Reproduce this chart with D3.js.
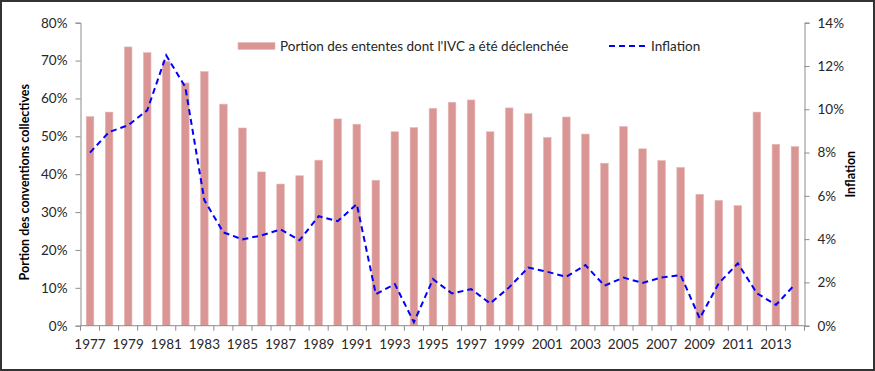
<!DOCTYPE html>
<html>
<head>
<meta charset="utf-8">
<script src="https://cdn.jsdelivr.net/npm/d3@7"></script>
<style>
  body { margin: 0; background: #fff; }
  svg { display: block; font-family: Lato, "Open Sans", sans-serif; }
</style>
</head>
<body>
<svg id="chart" width="875" height="371"></svg>
<script>
// Data
const years = d3.range(1977, 2015).map(String);
const portion = [55.2, 56.4, 73.6, 72.1, 69.8, 64.1, 67.1, 58.5, 52.2, 40.6,
                 37.4, 39.6, 43.7, 54.6, 53.2, 38.4, 51.2, 52.3, 57.4, 59.0,
                 59.6, 51.2, 57.5, 56.0, 49.7, 55.1, 50.6, 42.9, 52.6, 46.7,
                 43.6, 41.8, 34.7, 33.1, 31.7, 56.4, 47.9, 47.3];
const inflation = [8.0, 8.95, 9.26, 9.95, 12.49, 11.03, 5.8, 4.31, 3.99, 4.17,
                   4.45, 3.95, 5.06, 4.83, 5.62, 1.46, 1.92, 0.16, 2.15, 1.49,
                   1.69, 1.03, 1.77, 2.69, 2.49, 2.26, 2.80, 1.85, 2.22, 1.98,
                   2.23, 2.34, 0.34, 1.96, 2.88, 1.50, 0.96, 1.91];
const leftTicks = [0, 10, 20, 30, 40, 50, 60, 70, 80];
const rightTicks = [0, 2, 4, 6, 8, 10, 12, 14];
const labels = {
  bars: "Portion des ententes dont l'IVC a été déclenchée",
  line: "Inflation",
  yLeft: "Portion des conventions collectives",
  yRight: "Inflation"
};

const svg = d3.select("#chart");
const W = 875, H = 371;
const plot = { left: 80.5, right: 804.5, top: 22.7, bottom: 325.7 };

// frame
svg.append("rect")
  .attr("x", 1).attr("y", 1).attr("width", W - 2).attr("height", H - 2)
  .attr("fill", "#fff").attr("stroke", "#333").attr("stroke-width", 2);

const x = d3.scaleBand().domain(years).range([plot.left, plot.right]).paddingInner(0).paddingOuter(0);
const yL = d3.scaleLinear().domain([0, 80]).range([plot.bottom, plot.top]);
const yR = d3.scaleLinear().domain([0, 14]).range([plot.bottom, plot.top]);

const barW = x.bandwidth() / 2.5;

// bars
svg.append("g").selectAll("rect")
  .data(years)
  .join("rect")
  .attr("x", d => x(d) + (x.bandwidth() - barW) / 2)
  .attr("width", barW)
  .attr("y", (d, i) => yL(portion[i]))
  .attr("height", (d, i) => yL(0) - yL(portion[i]))
  .attr("fill", "#d99694")
  .attr("stroke", "#e6b9b8")
  .attr("stroke-width", 0.6);

// axes
const axisColor = "#8c8c8c";
const textColor = "#262626";

const gL = svg.append("g")
  .attr("transform", `translate(${plot.left},0)`)
  .call(d3.axisLeft(yL).tickValues(leftTicks).tickFormat(d => d + "%").tickSize(5).tickPadding(8));
const gR = svg.append("g")
  .attr("transform", `translate(${plot.right},0)`)
  .call(d3.axisRight(yR).tickValues(rightTicks).tickFormat(d => d + "%").tickSize(5).tickPadding(8));

// x axis: ticks at category boundaries, labels every other year
const gX = svg.append("g").attr("transform", `translate(0,${plot.bottom})`);
gX.append("line")
  .attr("x1", plot.left).attr("x2", plot.right)
  .attr("stroke", axisColor);
gX.selectAll("line.tick")
  .data(years.concat(["end"]))
  .join("line")
  .attr("class", "tick")
  .attr("x1", (d, i) => plot.left + i * x.bandwidth())
  .attr("x2", (d, i) => plot.left + i * x.bandwidth())
  .attr("y1", 0).attr("y2", 5)
  .attr("stroke", axisColor);
gX.selectAll("text")
  .data(years.filter((d, i) => i % 2 === 0))
  .join("text")
  .attr("x", d => x(d) + x.bandwidth() / 2)
  .attr("y", 23)
  .attr("text-anchor", "middle")
  .attr("fill", textColor)
  .attr("font-size", 13.5)
  .text(d => d);

[gL, gR].forEach(g => {
  g.select(".domain").attr("stroke", axisColor);
  g.selectAll(".tick line").attr("stroke", axisColor);
  g.selectAll(".tick text").attr("fill", textColor).attr("font-size", 13.5)
    .attr("font-family", 'Lato, "Open Sans", sans-serif');
});

// inflation line
const line = d3.line()
  .x((d, i) => x(years[i]) + x.bandwidth() / 2)
  .y(d => yR(d));
svg.append("path")
  .datum(inflation)
  .attr("d", line)
  .attr("fill", "none")
  .attr("stroke", "#0000ff")
  .attr("stroke-width", 2)
  .attr("stroke-dasharray", "6,4");

// axis titles
svg.append("text")
  .attr("transform", `translate(29,${(plot.top + plot.bottom) / 2 + 8}) rotate(-90)`)
  .attr("text-anchor", "middle")
  .attr("font-weight", "bold")
  .attr("font-size", 12.5)
  .attr("fill", "#000")
  .text(labels.yLeft);
svg.append("text")
  .attr("transform", `translate(855,${(plot.top + plot.bottom) / 2}) rotate(-90)`)
  .attr("text-anchor", "middle")
  .attr("font-weight", "bold")
  .attr("font-size", 12.5)
  .attr("fill", "#000")
  .text(labels.yRight);

// legend
const lg = svg.append("g");
lg.append("rect")
  .attr("x", 238).attr("y", 42.5).attr("width", 37).attr("height", 7)
  .attr("fill", "#d99694").attr("stroke", "#e6b9b8").attr("stroke-width", 0.6);
lg.append("text")
  .attr("x", 280).attr("y", 51)
  .attr("font-size", 13.5).attr("fill", textColor)
  .text(labels.bars);
lg.append("line")
  .attr("x1", 609).attr("x2", 646).attr("y1", 46).attr("y2", 46)
  .attr("stroke", "#0000ff").attr("stroke-width", 2).attr("stroke-dasharray", "6,4");
lg.append("text")
  .attr("x", 651).attr("y", 51)
  .attr("font-size", 13.5).attr("fill", textColor)
  .text(labels.line);
</script>
</body>
</html>
